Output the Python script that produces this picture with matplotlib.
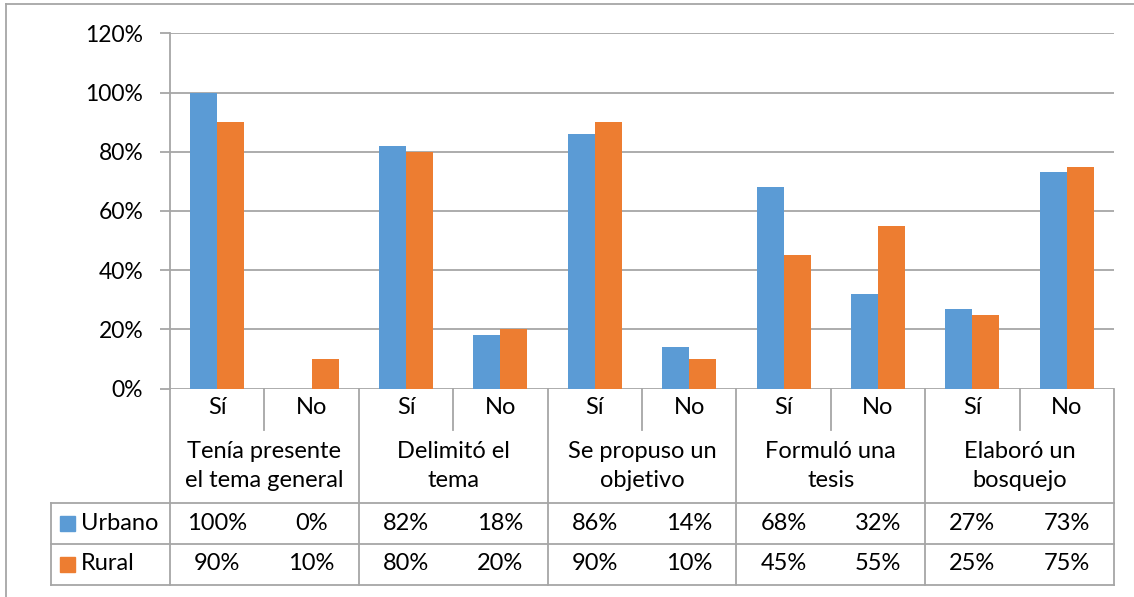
import matplotlib
matplotlib.use('Agg')
import matplotlib.pyplot as plt
from matplotlib import transforms
from matplotlib.lines import Line2D
from matplotlib.patches import Rectangle

plt.rcParams['font.family'] = ['Lato', 'DejaVu Sans']

# data
groups = ['Tenía presente\nel tema general', 'Delimitó el\ntema', 'Se propuso un\nobjetivo',
          'Formuló una\ntesis', 'Elaboró un\nbosquejo']
answers = ['Sí', 'No']
urbano = [100, 0, 82, 18, 86, 14, 68, 32, 27, 73]
rural = [90, 10, 80, 20, 90, 10, 45, 55, 25, 75]
series = ['Urbano', 'Rural']
colors = ['#5B9BD5', '#ED7D31']
grid_c = '#A6A6A6'
fs = 17

W, H = 1134, 597
fig = plt.figure(figsize=(W / 100, H / 100), dpi=100)

def fx(px):
    return px / W

def fy(py):
    return 1 - py / H

x_left, x_right, y_top, y_zero = 170, 1114, 33.3, 388.5
ax = fig.add_axes([fx(x_left), fy(y_zero), fx(x_right - x_left), (y_zero - y_top) / H])

n = len(urbano)
pos = list(range(n))
bw = 0.286
ax.bar([p - bw / 2 for p in pos], [v / 100 for v in urbano], bw, color=colors[0], zorder=3)
ax.bar([p + bw / 2 for p in pos], [v / 100 for v in rural], bw, color=colors[1], zorder=3)
ax.set_xlim(-0.5, n - 0.5)
ax.set_ylim(0, 1.2)
ax.set_yticks([0, 0.2, 0.4, 0.6, 0.8, 1.0, 1.2])
ax.set_yticklabels(['0%', '20%', '40%', '60%', '80%', '100%', '120%'], fontsize=fs - 0.5)
ax.set_xticks([])
ax.yaxis.grid(True, color=grid_c, lw=1.3, zorder=0)
ax.tick_params(axis='y', length=7.2, width=1.3, color=grid_c, pad=12)
for s in ['top', 'right', 'bottom']:
    ax.spines[s].set_visible(False)
ax.spines['left'].set_color(grid_c)
ax.spines['left'].set_linewidth(1.3)

# data table below the chart
tr = transforms.blended_transform_factory(ax.transData, fig.transFigure)
rows_y = [388.5, 430, 503, 544, 585]
step = (x_right - x_left) / n

def hline(x0, x1, y):
    fig.add_artist(Line2D([fx(x0), fx(x1)], [fy(y), fy(y)], color=grid_c, lw=1.3))

def vline(x, y0, y1):
    fig.add_artist(Line2D([fx(x), fx(x)], [fy(y0), fy(y1)], color=grid_c, lw=1.3))

for k in range(n + 1):
    xk = x_left + k * step
    if k % 2 == 0:
        vline(xk, rows_y[0], rows_y[4])
    else:
        vline(xk, rows_y[0], rows_y[1])
for y in rows_y[2:]:
    hline(51, x_right, y)
vline(51, rows_y[2], rows_y[4])

for i in range(n):
    ax.text(i, fy(408), answers[i % 2], transform=tr, ha='center', va='center', fontsize=fs)
    ax.text(i, fy(523), f'{urbano[i]}%', transform=tr, ha='center', va='center', fontsize=fs)
    ax.text(i, fy(564), f'{rural[i]}%', transform=tr, ha='center', va='center', fontsize=fs)
for g, label in enumerate(groups):
    ax.text(2 * g + 0.5, fy(466), label, transform=tr, ha='center', va='center',
            fontsize=fs, linespacing=1.5)

for j, (name, y) in enumerate(zip(series, [523, 564])):
    fig.add_artist(Rectangle((fx(60), fy(y + 8)), fx(15), 15 / H, color=colors[j]))
    fig.text(fx(81), fy(y), name, ha='left', va='center', fontsize=fs)

# outer chart border
fig.add_artist(Line2D([fx(6), 1], [fy(4), fy(4)], color=grid_c, lw=1.3))
fig.add_artist(Line2D([fx(6), fx(6)], [fy(4), 0], color=grid_c, lw=1.3))

fig.savefig('out.png', dpi=100)
